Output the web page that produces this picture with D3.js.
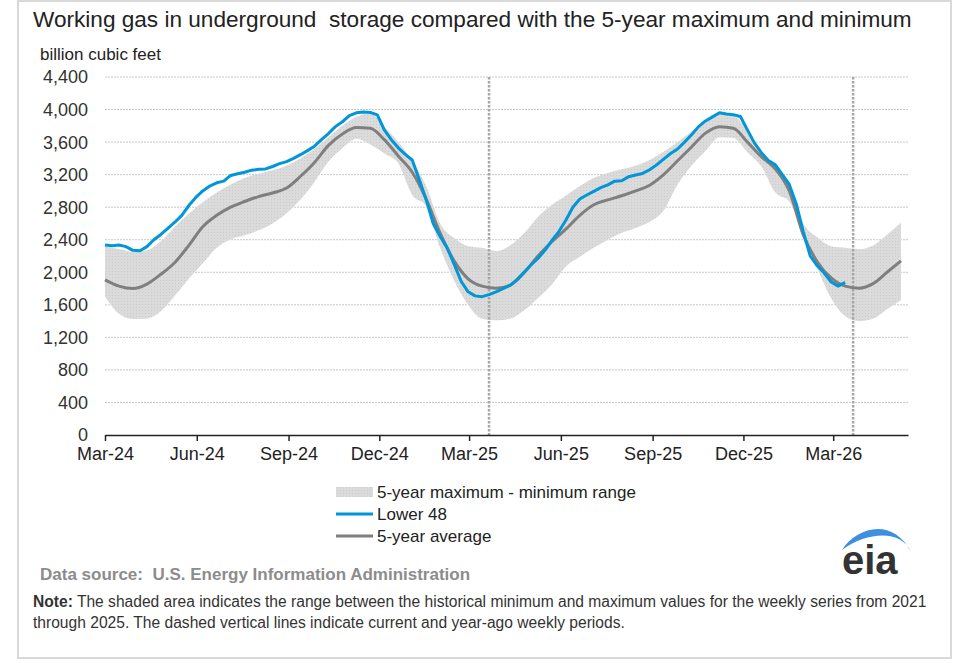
<!DOCTYPE html>
<html>
<head>
<meta charset="utf-8">
<script src="https://cdn.jsdelivr.net/npm/d3@7"></script>
<style>
  body { margin: 0; background: #fff; }
  svg { display: block; font-family: "Liberation Sans", Arial, sans-serif; }
</style>
</head>
<body>
<div id="chart"></div>
<script>
// weekly Lower 48 storage, starting the week of 1 Mar 2024 (billion cubic feet)
const lower48Start = '2024-03-01';
const lower48 = [
  2335, 2325, 2335, 2315, 2270, 2265, 2315, 2400, 2465, 2540,
  2615, 2700, 2820, 2920, 3000, 3060, 3100, 3120, 3190, 3210,
  3230, 3255, 3265, 3270, 3300, 3335, 3360, 3400, 3445, 3495,
  3550, 3630, 3705, 3790, 3850, 3925, 3960, 3970, 3965, 3935,
  3750, 3630, 3530, 3450, 3380, 3140, 2890, 2600, 2440, 2300,
  2100, 1890, 1760, 1710, 1700, 1725, 1760, 1800, 1840, 1910,
  2000, 2090, 2170, 2270, 2390, 2500, 2640, 2800, 2900, 2950,
  2995, 3040, 3075, 3120, 3125, 3175, 3195, 3215, 3260, 3320,
  3390, 3460, 3515, 3600, 3690, 3790, 3860, 3910, 3960, 3945,
  3935, 3915, 3750, 3590, 3470, 3375, 3320, 3200, 3080, 2840,
  2500, 2200, 2080, 1990, 1880, 1830, 1875
];

// 5-year statistics, every second week from 1 Mar 2024
const rangeStart = '2024-03-01';
const avg5 = [
  1907, 1830, 1800, 1855, 1975, 2120, 2330, 2560, 2700, 2800,
  2870, 2930, 2975, 3035, 3180, 3350, 3560, 3700, 3780, 3770,
  3630, 3430, 3230, 2900, 2480, 2140, 1920, 1830, 1805, 1840,
  1990, 2200, 2375, 2530, 2700, 2830, 2890, 2940, 3000, 3070,
  3200, 3370, 3540, 3710, 3790, 3770, 3600, 3420, 3270, 3000,
  2460, 2130, 1930, 1830, 1805, 1860, 2000, 2140
];
const max5 = [
  2316, 2285, 2250, 2270, 2380, 2560, 2720, 2860, 2980, 3080,
  3160, 3210, 3255, 3310, 3400, 3515, 3660, 3800, 3910, 3950,
  3790, 3600, 3370, 3060, 2600, 2420, 2320, 2300, 2260, 2330,
  2480, 2680, 2830, 2940, 3060, 3160, 3220, 3265, 3310, 3380,
  3480, 3600, 3730, 3860, 3955, 3920, 3750, 3480, 3300, 3030,
  2600, 2430, 2320, 2300, 2285, 2330, 2460, 2612
];
const min5 = [
  1701, 1490, 1425, 1430, 1520, 1710, 1920, 2110, 2300, 2405,
  2455, 2515, 2600, 2725, 2895, 3110, 3360, 3525, 3640, 3570,
  3460, 3340, 2950, 2815, 2300, 1900, 1600, 1430, 1410, 1430,
  1530, 1680, 1850, 2070, 2190, 2300, 2400, 2485, 2545, 2620,
  2760, 3080, 3310, 3490, 3660, 3650, 3475, 3300, 2980, 2870,
  2470, 2050, 1680, 1460, 1400, 1430, 1545, 1660
];

const xTicks = ['2024-03-01', '2024-06-01', '2024-09-01', '2024-12-01', '2025-03-01',
  '2025-06-01', '2025-09-01', '2025-12-01', '2026-03-01'];
const yTicks = [0, 400, 800, 1200, 1600, 2000, 2400, 2800, 3200, 3600, 4000, 4400];
const currentWeeks = ['2025-03-21', '2026-03-21'];

const parse = d3.utcParse('%Y-%m-%d');
const addDays = (s, n) => d3.utcDay.offset(parse(s), n);

const lowerData = lower48.map((v, i) => ({ date: addDays(lower48Start, 7 * i), v }));
const rangeData = avg5.map((v, i) => ({
  date: addDays(rangeStart, 14 * i), avg: v, max: max5[i], min: min5[i]
}));

const width = 960, height = 663;
const plot = { left: 105, right: 908, top: 77, bottom: 435 };

const x = d3.scaleUtc()
  .domain([parse('2024-03-01'), parse('2026-05-15')])
  .range([plot.left, plot.right]);
const y = d3.scaleLinear().domain([0, 4400]).range([plot.bottom, plot.top]);

const svg = d3.select('#chart').append('svg')
  .attr('width', width)
  .attr('height', height);

// speckled grey used for the range band
const pat = svg.append('defs').append('pattern')
  .attr('id', 'speckle')
  .attr('width', 3).attr('height', 3)
  .attr('patternUnits', 'userSpaceOnUse');
pat.append('rect').attr('width', 3).attr('height', 3).attr('fill', '#dbdbdb');
pat.append('rect').attr('x', 1).attr('y', 1).attr('width', 1).attr('height', 1).attr('fill', '#cbcbcb');

// outer frame
svg.append('rect')
  .attr('x', 18).attr('y', 1)
  .attr('width', 933).attr('height', 657)
  .attr('fill', '#fff')
  .attr('stroke', '#d9d9d9')
  .attr('stroke-width', 2);

svg.append('text')
  .attr('x', 33).attr('y', 27)
  .attr('font-size', 22.6)
  .attr('fill', '#222')
  .style('white-space', 'pre')
  .text('Working gas in underground  storage compared with the 5-year maximum and minimum');

svg.append('text')
  .attr('x', 40).attr('y', 60)
  .attr('font-size', 17)
  .attr('fill', '#222')
  .text('billion cubic feet');

// gridlines
svg.append('g')
  .selectAll('line')
  .data(yTicks.filter(d => d > 0))
  .join('line')
  .attr('x1', plot.left).attr('x2', plot.right)
  .attr('y1', d => y(d)).attr('y2', d => y(d))
  .attr('stroke', '#c8c8c8')
  .attr('stroke-dasharray', '2,1');

// y labels
svg.append('g')
  .selectAll('text')
  .data(yTicks)
  .join('text')
  .attr('x', 88)
  .attr('y', d => y(d))
  .attr('dy', '0.36em')
  .attr('text-anchor', 'end')
  .attr('font-size', 18)
  .attr('fill', '#333')
  .text(d3.format(','));

// 5-year range band
svg.append('path')
  .datum(rangeData)
  .attr('fill', 'url(#speckle)')
  .attr('d', d3.area()
    .x(d => x(d.date))
    .y0(d => y(d.min))
    .y1(d => y(d.max))
    .curve(d3.curveMonotoneX));

// current / year-ago markers
svg.append('g')
  .selectAll('line')
  .data(currentWeeks)
  .join('line')
  .attr('x1', d => x(parse(d))).attr('x2', d => x(parse(d)))
  .attr('y1', plot.top).attr('y2', plot.bottom)
  .attr('stroke', '#a6a6a6')
  .attr('stroke-width', 2.5)
  .attr('stroke-dasharray', '2.5,1.5');

svg.append('path')
  .datum(rangeData)
  .attr('fill', 'none')
  .attr('stroke', '#7f7f7f')
  .attr('stroke-width', 3)
  .attr('d', d3.line()
    .x(d => x(d.date))
    .y(d => y(d.avg))
    .curve(d3.curveMonotoneX));

svg.append('path')
  .datum(lowerData)
  .attr('fill', 'none')
  .attr('stroke', '#0096d7')
  .attr('stroke-width', 3)
  .attr('stroke-linejoin', 'round')
  .attr('d', d3.line()
    .x(d => x(d.date))
    .y(d => y(d.v)));

// x axis
const xAxis = svg.append('g')
  .attr('transform', `translate(0, ${plot.bottom})`)
  .call(d3.axisBottom(x)
    .tickValues(xTicks.map(parse))
    .tickFormat(d3.utcFormat('%b-%y'))
    .tickSizeInner(6)
    .tickSizeOuter(0)
    .tickPadding(6));
xAxis.select('.domain').attr('stroke', '#222').attr('stroke-width', 1.5);
xAxis.selectAll('.tick line').attr('stroke', '#222').attr('stroke-width', 1.5);
xAxis.selectAll('.tick text')
  .attr('font-family', '"Liberation Sans", Arial, sans-serif')
  .attr('font-size', 18)
  .attr('fill', '#222');

// legend
const legend = svg.append('g').attr('font-size', 17).attr('fill', '#222');
legend.append('rect')
  .attr('x', 336).attr('y', 487)
  .attr('width', 37).attr('height', 10)
  .attr('fill', 'url(#speckle)');
legend.append('line')
  .attr('x1', 336).attr('x2', 373)
  .attr('y1', 514).attr('y2', 514)
  .attr('stroke', '#0096d7').attr('stroke-width', 3);
legend.append('line')
  .attr('x1', 336).attr('x2', 373)
  .attr('y1', 536).attr('y2', 536)
  .attr('stroke', '#7f7f7f').attr('stroke-width', 3);
legend.selectAll('text')
  .data(['5-year maximum - minimum range', 'Lower 48', '5-year average'])
  .join('text')
  .attr('x', 377)
  .attr('y', (d, i) => 492 + i * 22)
  .attr('dy', '0.36em')
  .text(d => d);

// eia logo
svg.append('path')
  .attr('d', 'M842,550 C856,528 892,516 911,552 C902,531 870,530 842,550 Z')
  .attr('fill', '#3d8fe0');
svg.append('text')
  .attr('x', 842).attr('y', 574)
  .attr('font-size', 40)
  .attr('font-weight', 'bold')
  .attr('fill', '#333')
  .text('eia');

svg.append('text')
  .attr('x', 40).attr('y', 580)
  .attr('font-size', 17)
  .attr('font-weight', 'bold')
  .attr('fill', '#8c8c8c')
  .style('white-space', 'pre')
  .text('Data source:  U.S. Energy Information Administration');

const note = svg.append('text')
  .attr('x', 33).attr('y', 607)
  .attr('font-size', 15.6)
  .attr('fill', '#333');
note.append('tspan').attr('font-weight', 'bold').text('Note:');
note.append('tspan')
  .text(' The shaded area indicates the range between the historical minimum and maximum values for the weekly series from 2021');
svg.append('text')
  .attr('x', 33).attr('y', 628)
  .attr('font-size', 15.6)
  .attr('fill', '#333')
  .text('through 2025. The dashed vertical lines indicate current and year-ago weekly periods.');
</script>
</body>
</html>
